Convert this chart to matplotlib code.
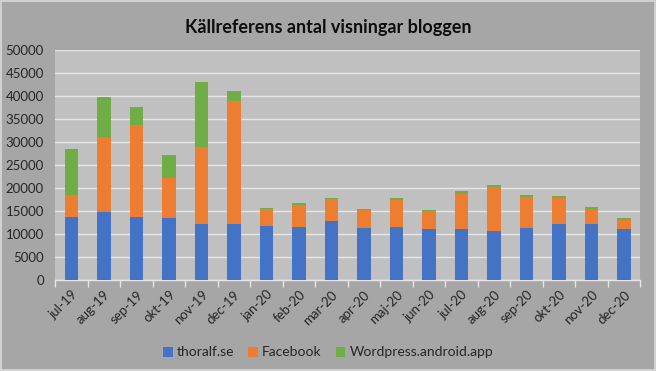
import numpy as np
import matplotlib.pyplot as plt
from matplotlib.patches import Rectangle

months = ['jul-19', 'aug-19', 'sep-19', 'okt-19', 'nov-19', 'dec-19',
          'jan-20', 'feb-20', 'mar-20', 'apr-20', 'maj-20', 'jun-20',
          'jul-20', 'aug-20', 'sep-20', 'okt-20', 'nov-20', 'dec-20']

thoralf = [13800, 14900, 13700, 13600, 12300, 12300,
           11800, 11600, 12900, 11400, 11500, 11100,
           11100, 10700, 11400, 12300, 12300, 11100]
facebook = [4600, 16100, 20000, 8700, 16700, 26600,
            3600, 4700, 4700, 3900, 6000, 3900,
            7700, 9500, 6700, 5600, 3200, 2000]
wordpress = [10000, 8700, 3900, 4800, 14000, 2100,
             250, 400, 300, 200, 300, 200,
             500, 500, 400, 300, 400, 400]

c_blue = '#4472C4'
c_orange = '#ED7D31'
c_green = '#70AD47'

fig = plt.figure(figsize=(6.56, 3.71), dpi=100)
fig.patch.set_facecolor('#a6a6a6')
ax = fig.add_axes([0.084, 0.245, 0.892, 0.62])
ax.set_facecolor('#c0c0c0')

x = np.arange(len(months))
w = 0.42
thoralf = np.array(thoralf)
facebook = np.array(facebook)
wordpress = np.array(wordpress)
ax.bar(x, thoralf, w, color=c_blue, label='thoralf.se', zorder=3)
ax.bar(x, facebook, w, bottom=thoralf, color=c_orange, label='Facebook', zorder=3)
ax.bar(x, wordpress, w, bottom=thoralf + facebook, color=c_green,
       label='Wordpress.android.app', zorder=3)

ax.set_xlim(-0.5, len(months) - 0.5)
ax.set_ylim(0, 50000)
ax.set_yticks(np.arange(0, 50001, 5000))
ax.yaxis.grid(True, color='#e6e6e6', linewidth=1, zorder=0)
for s in ['top', 'right', 'left']:
    ax.spines[s].set_visible(False)
ax.spines['bottom'].set_color('#e6e6e6')
ax.spines['bottom'].set_linewidth(1)

ax.set_xticks(x)
ax.set_xticklabels(months, rotation=45, ha='right', rotation_mode='anchor',
                   fontsize=9.5, family='Lato', color='#262626')
ax.set_xticks(np.arange(-0.5, len(months), 1), minor=True)
ax.tick_params(axis='x', which='major', length=0, pad=6)
ax.tick_params(axis='x', which='minor', length=5, color='#e6e6e6', width=1)
ax.tick_params(axis='y', length=0, labelsize=9.5, labelcolor='#262626', pad=8)
for lab in ax.get_yticklabels():
    lab.set_family('Lato')

fig.suptitle('Källreferens antal visningar bloggen', y=0.95, fontsize=13,
             fontweight='bold', family='Lato', color='#0d0d0d')

leg = fig.legend(loc='lower center', bbox_to_anchor=(0.5, 0.0), ncol=3,
                 frameon=False, handlelength=0.7, handleheight=0.7,
                 handletextpad=0.3, columnspacing=1.0, prop={'family': 'Lato', 'size': 10})
for t in leg.get_texts():
    t.set_color('#262626')

# thin light frame round the whole chart
fig.patches.append(Rectangle((0.001, 0.002), 0.997, 0.995, transform=fig.transFigure,
                             fill=False, edgecolor='#d9d9d9', linewidth=1.2))

fig.savefig('out.png', dpi=100, facecolor=fig.get_facecolor())
